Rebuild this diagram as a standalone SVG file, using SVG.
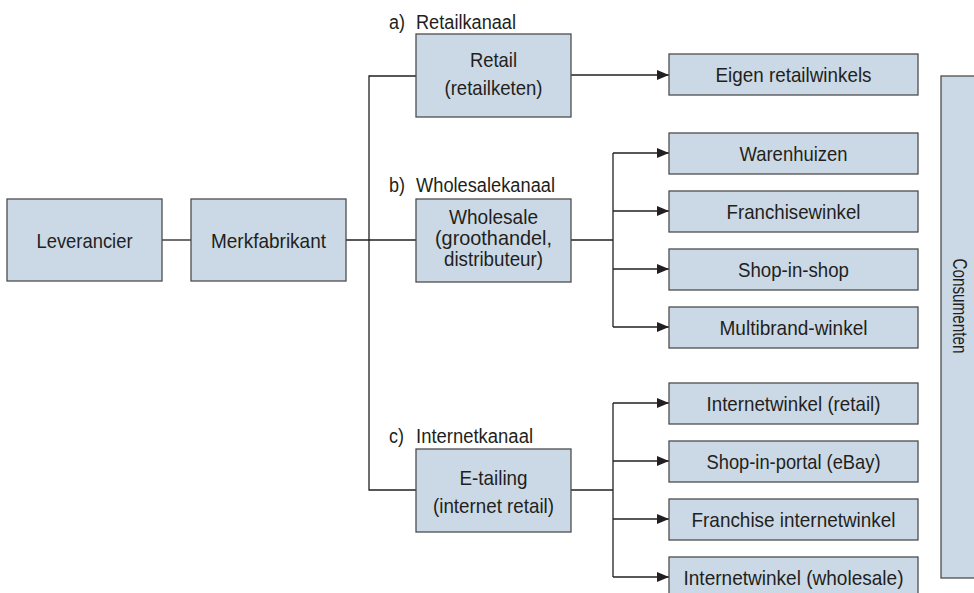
<svg xmlns="http://www.w3.org/2000/svg" width="974" height="593" viewBox="0 0 974 593">
  <style>
    .box { fill: #cbd9e6; stroke: #4d4d4f; stroke-width: 1.3; }
    .txt { font-family: "Liberation Sans", Arial, sans-serif; font-size: 21px; fill: #231f20; text-anchor: middle; }
    .lbl { font-family: "Liberation Sans", Arial, sans-serif; font-size: 20px; fill: #231f20; }
    .wire { fill: none; stroke: #231f20; stroke-width: 1.3; }
    .arrow { fill: none; stroke: #231f20; stroke-width: 1.3; marker-end: url(#head); }
  </style>
  <defs>
    <marker id="head" markerUnits="userSpaceOnUse" markerWidth="12" markerHeight="10" refX="12" refY="5" orient="auto">
      <path d="M0,0 L12,5 L0,10 z" fill="#231f20"/>
    </marker>
  </defs>
  <rect width="974" height="593" fill="#ffffff"/>

  <!-- connectors -->
  <g id="connectors">
    <line class="wire" x1="162" y1="240" x2="191" y2="240"/>
    <line class="wire" x1="346" y1="240" x2="416" y2="240"/>
    <polyline class="wire" points="416,76 369,76 369,490 416,490"/>
    <line class="arrow" x1="571" y1="75" x2="669" y2="75"/>
    <!-- wholesale fan-out -->
    <line class="wire" x1="571" y1="240" x2="613" y2="240"/>
    <line class="wire" x1="613" y1="153" x2="613" y2="327"/>
    <line class="arrow" x1="613" y1="153" x2="669" y2="153"/>
    <line class="arrow" x1="613" y1="211" x2="669" y2="211"/>
    <line class="arrow" x1="613" y1="269" x2="669" y2="269"/>
    <line class="arrow" x1="613" y1="327" x2="669" y2="327"/>
    <!-- internet fan-out -->
    <line class="wire" x1="571" y1="490" x2="613" y2="490"/>
    <line class="wire" x1="613" y1="403" x2="613" y2="577"/>
    <line class="arrow" x1="613" y1="403" x2="669" y2="403"/>
    <line class="arrow" x1="613" y1="461" x2="669" y2="461"/>
    <line class="arrow" x1="613" y1="519" x2="669" y2="519"/>
    <line class="arrow" x1="613" y1="577" x2="669" y2="577"/>
  </g>

  <g id="leverancier">
    <rect class="box" x="7" y="199" width="155" height="82"/>
    <text class="txt" x="84.5" y="247.5" textLength="96" lengthAdjust="spacingAndGlyphs">Leverancier</text>
  </g>
  <g id="merkfabrikant">
    <rect class="box" x="191" y="199" width="155" height="82"/>
    <text class="txt" x="268.5" y="247.5" textLength="115" lengthAdjust="spacingAndGlyphs">Merkfabrikant</text>
  </g>

  <!-- channel labels -->
  <g id="labels">
    <text class="lbl" x="389" y="29" textLength="16" lengthAdjust="spacingAndGlyphs">a)</text>
    <text class="lbl" x="416" y="29" textLength="100" lengthAdjust="spacingAndGlyphs">Retailkanaal</text>
    <text class="lbl" x="389" y="192" textLength="16" lengthAdjust="spacingAndGlyphs">b)</text>
    <text class="lbl" x="416" y="192" textLength="139" lengthAdjust="spacingAndGlyphs">Wholesalekanaal</text>
    <text class="lbl" x="389" y="443" textLength="15" lengthAdjust="spacingAndGlyphs">c)</text>
    <text class="lbl" x="416" y="443" textLength="117" lengthAdjust="spacingAndGlyphs">Internetkanaal</text>
  </g>

  <g id="retail">
    <rect class="box" x="416" y="34" width="155" height="83"/>
    <text class="txt" x="493.5" y="67" textLength="47" lengthAdjust="spacingAndGlyphs">Retail</text>
    <text class="txt" x="493.5" y="95" textLength="98" lengthAdjust="spacingAndGlyphs">(retailketen)</text>
  </g>
  <g id="wholesale">
    <rect class="box" x="416" y="199" width="155" height="83"/>
    <text class="txt" x="493.5" y="224" textLength="89" lengthAdjust="spacingAndGlyphs">Wholesale</text>
    <text class="txt" x="493.5" y="245" textLength="117" lengthAdjust="spacingAndGlyphs">(groothandel,</text>
    <text class="txt" x="493.5" y="266" textLength="99" lengthAdjust="spacingAndGlyphs">distributeur)</text>
  </g>
  <g id="etailing">
    <rect class="box" x="416" y="449" width="155" height="83"/>
    <text class="txt" x="493.5" y="485" textLength="68" lengthAdjust="spacingAndGlyphs">E-tailing</text>
    <text class="txt" x="493.5" y="513" textLength="121" lengthAdjust="spacingAndGlyphs">(internet retail)</text>
  </g>

  <g id="eigen-retailwinkels">
    <rect class="box" x="669" y="54" width="249" height="41"/>
    <text class="txt" x="793.5" y="82" textLength="156" lengthAdjust="spacingAndGlyphs">Eigen retailwinkels</text>
  </g>

  <g id="warenhuizen">
    <rect class="box" x="669" y="133" width="249" height="41"/>
    <text class="txt" x="793.5" y="161" textLength="108" lengthAdjust="spacingAndGlyphs">Warenhuizen</text>
  </g>
  <g id="franchisewinkel">
    <rect class="box" x="669" y="191" width="249" height="41"/>
    <text class="txt" x="793.5" y="219" textLength="134" lengthAdjust="spacingAndGlyphs">Franchisewinkel</text>
  </g>
  <g id="shop-in-shop">
    <rect class="box" x="669" y="249" width="249" height="41"/>
    <text class="txt" x="793.5" y="277" textLength="111" lengthAdjust="spacingAndGlyphs">Shop-in-shop</text>
  </g>
  <g id="multibrand-winkel">
    <rect class="box" x="669" y="307" width="249" height="41"/>
    <text class="txt" x="793.5" y="335" textLength="148" lengthAdjust="spacingAndGlyphs">Multibrand-winkel</text>
  </g>

  <g id="internetwinkel-retail">
    <rect class="box" x="669" y="383" width="249" height="41"/>
    <text class="txt" x="793.5" y="411" textLength="174" lengthAdjust="spacingAndGlyphs">Internetwinkel (retail)</text>
  </g>
  <g id="shop-in-portal">
    <rect class="box" x="669" y="441" width="249" height="41"/>
    <text class="txt" x="793.5" y="469" textLength="174" lengthAdjust="spacingAndGlyphs">Shop-in-portal (eBay)</text>
  </g>
  <g id="franchise-internetwinkel">
    <rect class="box" x="669" y="499" width="249" height="41"/>
    <text class="txt" x="793.5" y="527" textLength="204" lengthAdjust="spacingAndGlyphs">Franchise internetwinkel</text>
  </g>
  <g id="internetwinkel-wholesale">
    <rect class="box" x="669" y="557" width="249" height="41"/>
    <text class="txt" x="793.5" y="585" textLength="220" lengthAdjust="spacingAndGlyphs">Internetwinkel (wholesale)</text>
  </g>

  <g id="consumenten">
    <rect class="box" x="941" y="76" width="50" height="502"/>
    <text class="txt" transform="translate(953,306) rotate(90)" x="0" y="0" textLength="95" lengthAdjust="spacingAndGlyphs">Consumenten</text>
  </g>
</svg>
